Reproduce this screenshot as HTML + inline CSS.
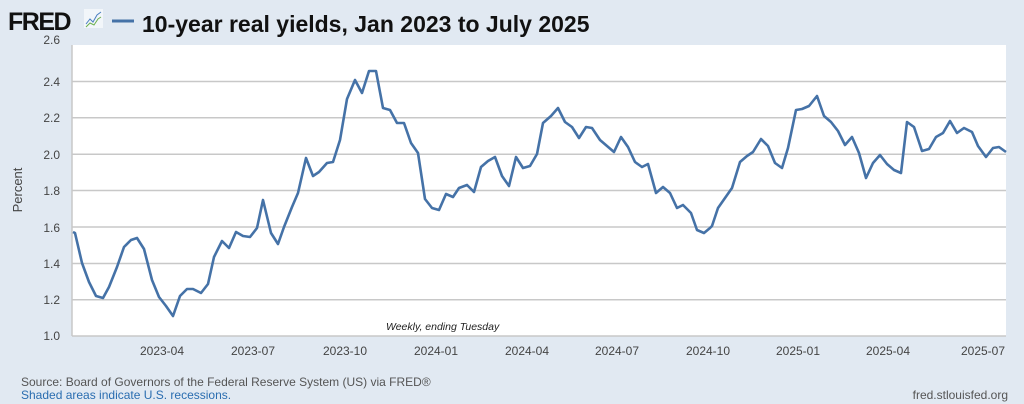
<!DOCTYPE html>
<html><head><meta charset="utf-8"><style>
body{margin:0;width:1024px;height:404px;background:#e1e9f2;overflow:hidden;font-family:"Liberation Sans",Arial,sans-serif}
</style></head><body>
<svg width="1024" height="404" xmlns="http://www.w3.org/2000/svg" style="position:absolute;left:0;top:0">
<text x="8" y="30" font-family="Liberation Sans" font-weight="bold" font-size="25" fill="#111" letter-spacing="-1.5">FRED</text>
<rect x="84" y="9" width="19" height="19" fill="#f2f6fa"/>
<polyline points="86,24 90,19 93,22 97,15 101,12" fill="none" stroke="#4a7fc0" stroke-width="1"/>
<polyline points="86,27 90,23 94,25 98,19 101,17" fill="none" stroke="#6ab04c" stroke-width="1"/>
<line x1="112" y1="21" x2="134" y2="21" stroke="#4572a7" stroke-width="3"/>
<text x="142" y="32" font-family="Liberation Sans" font-weight="bold" font-size="23" fill="#111">10-year real yields, Jan 2023 to July 2025</text>
<rect x="72" y="45" width="934" height="291" fill="#fff"/>
<g stroke="#c8c8c8" stroke-width="1.5">
<line x1="72" x2="1006" y1="81.5" y2="81.5"/><line x1="72" x2="1006" y1="117.8" y2="117.8"/>
<line x1="72" x2="1006" y1="154.2" y2="154.2"/><line x1="72" x2="1006" y1="190.5" y2="190.5"/>
<line x1="72" x2="1006" y1="227" y2="227"/><line x1="72" x2="1006" y1="263.5" y2="263.5"/>
<line x1="72" x2="1006" y1="299.8" y2="299.8"/><line x1="72" x2="1006" y1="336" y2="336"/>
<line x1="72" x2="72" y1="45" y2="336"/>
</g>
<g font-size="12" fill="#444" text-anchor="end">
<text x="60" y="44">2.6</text><text x="60" y="86">2.4</text><text x="60" y="122">2.2</text><text x="60" y="159">2.0</text>
<text x="60" y="195">1.8</text><text x="60" y="232">1.6</text><text x="60" y="268">1.4</text><text x="60" y="304">1.2</text><text x="60" y="340">1.0</text>
</g>
<text transform="translate(22,190) rotate(-90)" font-size="13" fill="#444" text-anchor="middle">Percent</text>
<g font-size="12" fill="#444" text-anchor="middle">
<text x="162" y="355">2023-04</text><text x="253" y="355">2023-07</text><text x="345" y="355">2023-10</text>
<text x="436" y="355">2024-01</text><text x="527" y="355">2024-04</text><text x="617" y="355">2024-07</text>
<text x="708" y="355">2024-10</text><text x="798" y="355">2025-01</text><text x="888" y="355">2025-04</text><text x="983" y="355">2025-07</text>
</g>
<text x="386" y="330" font-size="10.5" font-style="italic" fill="#222">Weekly, ending Tuesday</text>
<polyline fill="none" stroke="#4572a7" stroke-width="2.6" stroke-linejoin="round" points="73,232 75,233 82,263 89,282 96,296 103,298 109,287 117,267 124,247 131,240 137,238 144,249 152,280 159,297 166,306 173,316 180,296 187,289 193,289 201,293 208,284 214,257 222,241 229,248 236,232 243,236 250,237 257,228 263,200 271,233 278,244 284,227 292,207 298,193 306,158 313,176 319,172 327,163 333,162 340,140 347,99 355,80 362,93 369,71 376,71 383,108 390,110 397,123 404,123 411,143 418,153 425,199 432,208 439,210 446,194 453,197 459,188 467,185 474,192 481,167 488,161 495,157 502,176 509,186 516,157 523,168 530,166 537,154 543,123 551,116 558,108 565,122 572,127 579,138 586,127 592,128 600,140 607,146 614,152 621,137 628,147 635,162 642,167 648,164 656,193 663,187 670,193 677,208 683,205 691,213 697,230 704,233 710,228 712,226 718,208 725,198 732,188 740,162 747,156 753,152 761,139 768,146 775,163 782,168 788,148 796,110 802,109 809,106 817,96 824,116 831,122 838,131 845,145 852,137 859,153 866,178 873,163 880,155 887,164 894,170 901,173 907,122 914,127 922,151 929,149 936,137 943,133 950,121 957,133 964,128 972,132 978,146 986,157 993,148 999,147 1006,152"/>
<text x="21" y="386" font-size="12" fill="#555">Source: Board of Governors of the Federal Reserve System (US) via FRED®</text>
<text x="21" y="399" font-size="12" fill="#2a6db0">Shaded areas indicate U.S. recessions.</text>
<text x="1008" y="399" font-size="12" fill="#555" text-anchor="end">fred.stlouisfed.org</text>
</svg>
</body></html>
